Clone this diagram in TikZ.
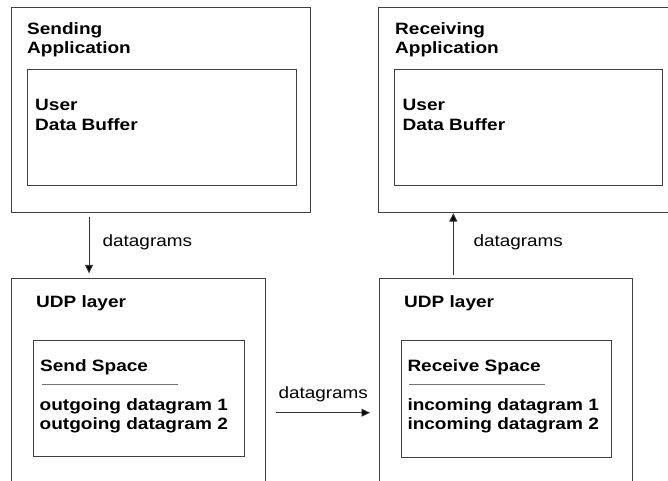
\documentclass[tikz,border=0pt]{standalone}
\usepackage{fontspec}
\setmainfont{Liberation Sans}[FakeStretch=1.16]
\usetikzlibrary{arrows.meta,calc}

\tikzset{
  frame/.style={draw=black!75, line width=0.9pt, inner sep=0pt, outer sep=0pt,
                anchor=north west, rectangle},
  % multi-line labels are placed by the baseline of their last line
  label/.style={anchor=base west, inner sep=0pt, align=left,
                font=\fontsize{16.4}{19.3}\selectfont\bfseries},
  flowlabel/.style={anchor=base west, inner sep=0pt,
                font=\fontsize{16.3}{19.3}\selectfont},
  rule/.style={draw=black!55, line width=1pt},
  flow/.style={draw=black!80, line width=0.9pt,
               -{Triangle[length=8.5pt,width=8pt,fill=black]}},
}

\begin{document}
\begin{tikzpicture}[x=1pt,y=-1pt]
  \useasboundingbox (0,0) rectangle (668,480);
  \clip (0,0) rectangle (668,480);
  \fill[white] (0,0) rectangle (668,480);

  % application boxes
  \node[frame, minimum width=299pt, minimum height=205.5pt] (sendapp) at (11,7) {};
  \node[frame, minimum width=269pt, minimum height=116pt] (sendbuf) at (27,69) {};
  \node[frame, minimum width=299pt, minimum height=205.5pt] (recvapp) at (378.3,7) {};
  \node[frame, minimum width=268pt, minimum height=116pt] (recvbuf) at (394.3,69) {};

  % UDP layer boxes (running past the lower edge)
  \node[frame, minimum width=254.7pt, minimum height=240pt] (udpsend) at (11,278.3) {};
  \node[frame, minimum width=211pt, minimum height=116pt] (sendspace) at (33.3,340.7) {};
  \node[frame, minimum width=253.7pt, minimum height=240pt] (udprecv) at (379,278.3) {};
  \node[frame, minimum width=210.7pt, minimum height=116.5pt] (recvspace) at (401,340.7) {};

  % titles
  \node[label] (t1) at (27,53.3) {Sending\\Application};
  \node[label] (t2) at (35,130) {User\\Data Buffer};
  \node[label] (t3) at (395,53.3) {Receiving\\Application};
  \node[label] (t4) at (402.5,130) {User\\Data Buffer};
  \node[label] (t5) at (36,307.3) {UDP layer};
  \node[label] (t6) at (404,307.3) {UDP layer};
  \node[label] (t7) at (40,371.7) {Send Space};
  \node[label] (t8) at (407.3,371.7) {Receive Space};
  \node[label] (t9) at (39.5,429.3) {outgoing datagram 1\\outgoing datagram 2};
  \node[label] (t10) at (407.3,429.3) {incoming datagram 1\\incoming datagram 2};

  % underlines of the space headings
  \draw[rule] (41.7,384) -- (177.7,384);
  \draw[rule] (409.3,384) -- (545,384);

  % datagram flows
  \draw[flow, shorten <=4.4pt, shorten >=5pt]
    (89,0 |- sendapp.south) -- (89,0 |- udpsend.north);
  \draw[flow, shorten <=3.3pt, shorten >=0.6pt]
    (453.3,0 |- udprecv.north) -- (453.3,0 |- recvapp.south);
  \draw[flow, shorten <=10.3pt, shorten >=9pt]
    (udpsend.east |- 0,412.7) -- (udprecv.west |- 0,412.7);

  \node[flowlabel] (d1) at (102.5,246.7) {datagrams};
  \node[flowlabel] (d2) at (473.3,246) {datagrams};
  \node[flowlabel] (d3) at (278.3,398.3) {datagrams};
\end{tikzpicture}
\end{document}
